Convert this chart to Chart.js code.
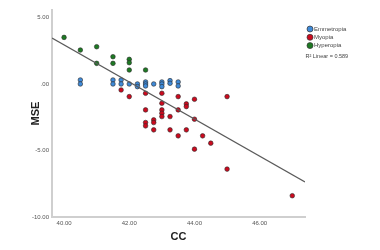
<!DOCTYPE html>
<html>
<head>
<meta charset="utf-8">
<script src="https://cdn.jsdelivr.net/npm/chart.js@4"></script>
<style>
    html, body { margin: 0; padding: 0; background: #fff; }
    #wrap { width: 380px; height: 250px; }
</style>
</head>
<body>
<div id="wrap"><canvas id="scatterChart" width="380" height="250"></canvas></div>
<script>
// CC (x) vs MSE (y)
const emmetropia = [
    [40.5, 0.3], [40.5, 0.0], [41.5, 0.3], [41.5, 0.0], [41.75, 0.3], [41.75, 0.0],
    [42.0, 0.0], [42.25, 0.0], [42.25, -0.2], [42.5, 0.15], [42.5, 0.0], [42.5, -0.15],
    [42.75, 0.0], [43.0, 0.15], [43.0, 0.0], [43.0, -0.2], [43.25, 0.25], [43.25, 0.05],
    [43.5, 0.15], [43.5, -0.15]
];
const myopia = [
    [41.75, -0.45], [42.0, -0.95], [42.5, -0.7], [42.5, -1.95], [42.5, -2.9], [42.5, -3.15],
    [42.75, -2.7], [42.75, -2.9], [42.75, -3.45], [43.0, -0.7], [43.0, -1.45], [43.0, -1.95],
    [43.0, -2.2], [43.0, -2.45], [43.25, -2.45], [43.25, -3.45], [43.5, -0.95], [43.5, -1.95],
    [43.5, -3.9], [43.75, -1.5], [43.75, -1.7], [43.75, -3.45], [44.0, -1.15], [44.0, -2.65],
    [44.0, -4.9], [44.25, -3.9], [44.5, -4.45], [45.0, -0.95], [45.0, -6.4], [47.0, -8.4]
];
const hyperopia = [
    [40.0, 3.5], [40.5, 2.55], [41.0, 2.8], [41.0, 1.55], [41.5, 2.05], [41.5, 1.55],
    [42.0, 1.85], [42.0, 1.6], [42.0, 1.05], [42.5, 1.05]
];

// linear fit as drawn (R2 = 0.589)
const fitIntercept = 58.69;
const fitSlope = -1.394;
const rSquared = '0.589';

const xRange = [39.63, 47.39];
const yRange = [-10, 5.56];
const xTicks = [40, 42, 44, 46];
const yTicks = [-10, -5, 0, 5];

const groupNames = ['Emmetropia', 'Myopia', 'Hyperopia'];
const groupColors = ['#3f8ad8', '#cc0a1e', '#1d7a23'];

const FONT = "'Liberation Sans', Arial, sans-serif";

const toPoints = arr => arr.map(p => ({ x: p[0], y: p[1] }));
const fitLine = xRange.map(x => ({ x: x, y: fitIntercept + fitSlope * x }));

function fmtTick(v) {
    if (v === 0) return '.00';
    return v.toFixed(2);
}

// small legend box in the top right, SPSS style
const legendPlugin = {
    id: 'spssLegend',
    afterDraw(chart) {
        const ctx = chart.ctx;
        ctx.save();
        ctx.font = '6px ' + FONT;
        ctx.textBaseline = 'middle';
        ctx.textAlign = 'left';
        groupNames.forEach((name, i) => {
            const y = 29 + i * 8.3;
            ctx.beginPath();
            ctx.arc(310, y, 3, 0, Math.PI * 2);
            ctx.fillStyle = groupColors[i];
            ctx.fill();
            ctx.lineWidth = 0.7;
            ctx.strokeStyle = '#333';
            ctx.stroke();
            ctx.fillStyle = '#444';
            ctx.fillText(name, 314, y);
        });
        ctx.font = '5.5px ' + FONT;
        ctx.fillText('R\u00b2 Linear = ' + rSquared, 305.5, 56);
        ctx.restore();
    }
};

const pointDataset = (i, arr) => ({
    type: 'scatter',
    label: groupNames[i],
    data: toPoints(arr),
    backgroundColor: groupColors[i],
    borderColor: '#2a2a2a',
    borderWidth: 0.6,
    pointRadius: 2.3,
    pointHoverRadius: 2.3
});

new Chart(document.getElementById('scatterChart'), {
    type: 'scatter',
    data: {
        datasets: [
            {
                type: 'line',
                label: 'Linear',
                data: fitLine,
                borderColor: '#5a5a5a',
                borderWidth: 1.2,
                pointRadius: 0,
                fill: false,
                order: 0
            },
            pointDataset(0, emmetropia),
            pointDataset(1, myopia),
            pointDataset(2, hyperopia)
        ]
    },
    options: {
        responsive: false,
        animation: false,
        devicePixelRatio: 1,
        layout: {
            padding: { left: 0, right: 75, top: 10, bottom: 0 }
        },
        plugins: {
            legend: { display: false },
            tooltip: { enabled: false }
        },
        scales: {
            x: {
                type: 'linear',
                min: xRange[0],
                max: xRange[1],
                afterBuildTicks: scale => { scale.ticks = xTicks.map(v => ({ value: v })); },
                afterFit: scale => { scale.height = 33; },
                grid: { display: false, drawTicks: false },
                border: { display: true, color: '#cfcfcf', width: 2 },
                ticks: {
                    padding: 3,
                    maxRotation: 0,
                    autoSkip: false,
                    color: '#555',
                    font: { family: FONT, size: 6 },
                    callback: v => fmtTick(v)
                },
                title: {
                    display: true,
                    text: 'CC',
                    color: '#222',
                    font: { family: FONT, size: 11, weight: 'bold' },
                    padding: { top: 0, bottom: 6.5 }
                }
            },
            y: {
                type: 'linear',
                min: yRange[0],
                max: yRange[1],
                afterBuildTicks: scale => { scale.ticks = yTicks.map(v => ({ value: v })); },
                afterFit: scale => { scale.width = 52; },
                grid: { display: false, drawTicks: false },
                border: { display: true, color: '#cfcfcf', width: 2 },
                ticks: {
                    padding: 3,
                    autoSkip: false,
                    color: '#555',
                    font: { family: FONT, size: 6 },
                    callback: v => fmtTick(v)
                },
                title: {
                    display: true,
                    text: 'MSE',
                    color: '#222',
                    font: { family: FONT, size: 11, weight: 'bold' },
                    padding: { top: 29, bottom: 0 }
                }
            }
        }
    },
    plugins: [legendPlugin]
});
</script>
</body>
</html>
